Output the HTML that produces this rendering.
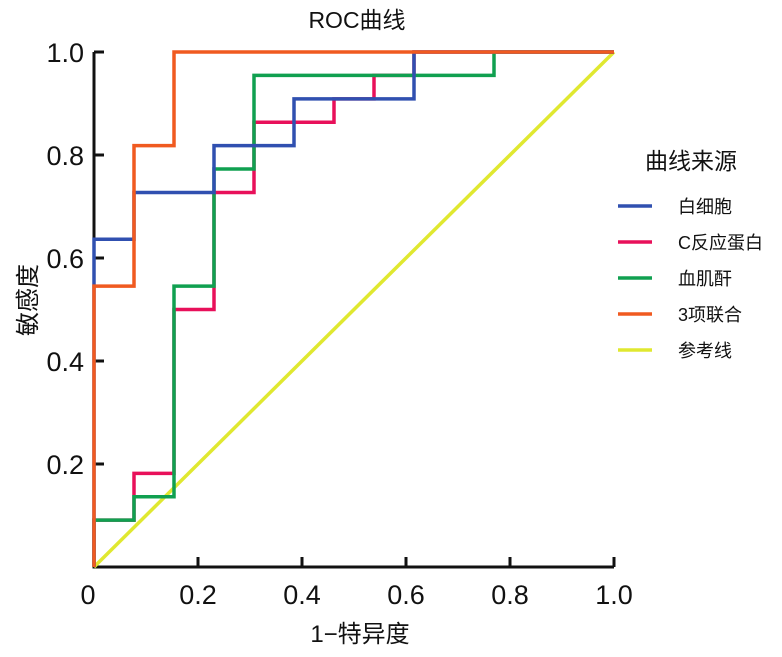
<!DOCTYPE html>
<html><head><meta charset="utf-8"><style>
body{margin:0;background:#fff}
svg{display:block}
text{font-family:"Liberation Sans","Noto Sans CJK SC",sans-serif;fill:#111}
</style></head><body>
<svg id="s" width="782" height="657" xmlns="http://www.w3.org/2000/svg">
<text x="357" y="28" font-size="23" text-anchor="middle">ROC曲线</text>
<g stroke="#111" stroke-width="3" fill="none">
<path d="M94 52V567H614"/>
<path d="M94 52h10M94 155h10M94 258h10M94 361h10M94 464h10"/>
<path d="M198 567v-10M302 567v-10M406 567v-10M510 567v-10M614 567v-10"/>
</g>
<g font-size="27" text-anchor="end">
<text x="84" y="62">1.0</text><text x="84" y="165">0.8</text><text x="84" y="268">0.6</text><text x="84" y="371">0.4</text><text x="84" y="474">0.2</text>
</g>
<g font-size="27" text-anchor="middle">
<text x="88" y="604">0</text><text x="198" y="604">0.2</text><text x="302" y="604">0.4</text><text x="406" y="604">0.6</text><text x="510" y="604">0.8</text><text x="614" y="604">1.0</text>
</g>
<text x="360" y="642" font-size="24" text-anchor="middle">1−特异度</text>
<text transform="translate(36,300) rotate(-90)" font-size="24" text-anchor="middle">敏感度</text>
<g id="lines" fill="none" stroke-width="3.5"></g>
<text x="645" y="169" font-size="23">曲线来源</text>
<g stroke-width="3.5">
<line x1="618" y1="206" x2="652" y2="206" stroke="#3050b0"/>
<line x1="618" y1="242" x2="652" y2="242" stroke="#e8105a"/>
<line x1="618" y1="278" x2="652" y2="278" stroke="#10a050"/>
<line x1="618" y1="314" x2="652" y2="314" stroke="#f05a20"/>
<line x1="618" y1="350" x2="652" y2="350" stroke="#e0e830"/>
</g>
<g font-size="18">
<text x="678" y="213">白细胞</text><text x="678" y="249">C反应蛋白</text><text x="678" y="285">血肌酐</text><text x="678" y="321">3项联合</text><text x="678" y="357">参考线</text>
</g>
</svg>
<script>
var X=function(v){return 94+520*v/13},Y=function(v){return 567-515*v/22};
var series=[
["#e0e830",[[0,0],[13,22]]],
["#e8105a",[[0,0],[0,2],[1,2],[1,4],[2,4],[2,11],[3,11],[3,16],[4,16],[4,19],[6,19],[6,20],[7,20],[7,21],[8,21],[8,22],[13,22]]],
["#10a050",[[0,0],[0,2],[1,2],[1,3],[2,3],[2,12],[3,12],[3,17],[4,17],[4,21],[10,21],[10,22],[13,22]]],
["#3050b0",[[0,0],[0,14],[1,14],[1,16],[3,16],[3,18],[5,18],[5,20],[8,20],[8,22],[13,22]]],
["#f05a20",[[0,0],[0,12],[1,12],[1,18],[2,18],[2,22],[13,22]]]];
var g=document.getElementById('lines'),h='';
series.forEach(function(s){h+='<polyline stroke="'+s[0]+'" points="'+s[1].map(function(p){return X(p[0])+','+Y(p[1])}).join(' ')+'"/>';});
g.innerHTML=h;
</script>
</body></html>
